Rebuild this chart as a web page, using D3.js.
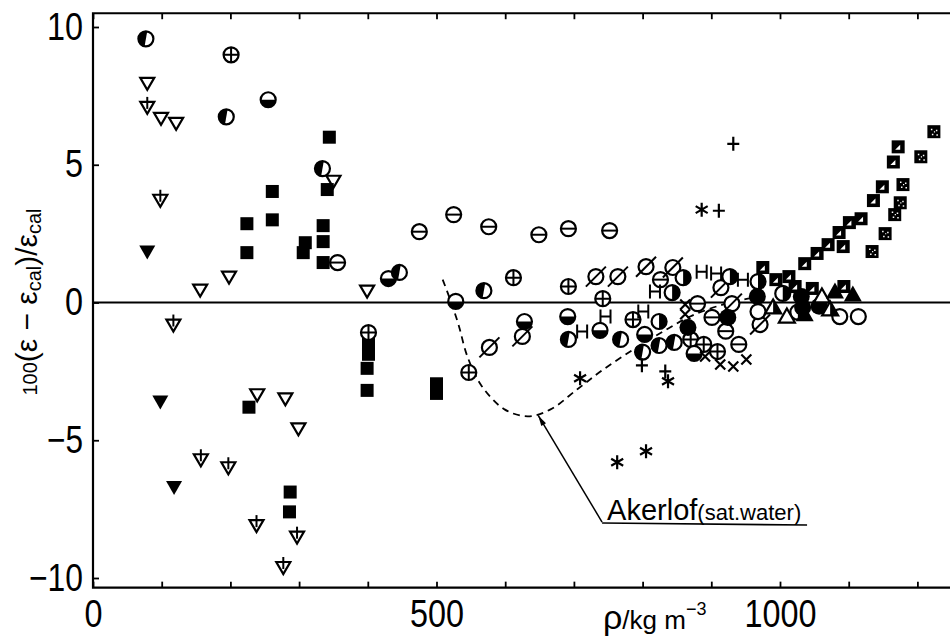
<!DOCTYPE html>
<html>
<head>
<meta charset="utf-8">
<script src="https://cdn.jsdelivr.net/npm/d3@7"></script>
<style>
  body { margin: 0; background: #fff; }
  svg { display: block; }
  text { font-family: "Liberation Sans", Arial, sans-serif; fill: #000; }
</style>
</head>
<body>
<svg id="chart" width="950" height="643"></svg>
<script>
// ---- data: [rho (kg m^-3), 100(eps - eps_cal)/eps_cal] ----
var halfDiag = [[77, 9.57], [194, 6.74], [334, 4.86], [446, 1.09], [569, 0.43], [692, -1.34],
  [768, -1.34], [800, -1.8], [824, -1.56], [846, -1.45]];
var halfBottom = [[255, 7.36], [430, 0.87], [528, 0.04], [628, -0.69], [691, -0.51], [738, -1.01],
  [803, -1.16], [875, -1.85]];
var crossCircle = [[201, 8.99], [401, -1.09], [547, -2.54], [612, 0.9], [692, 0.58], [742, 0.14],
  [786, -0.62], [870, -1.34], [889, -1.52], [909, -1.78]];
var minusCircle = [[356, 1.45], [475, 2.57], [525, 3.19], [576, 2.75], [649, 2.46], [692, 2.68],
  [752, 2.61], [826, 0.83], [880, -0.04], [901, -0.54], [921, -1.04], [940, -1.52]];
var slashCircle = [[577, -1.63], [625, -1.23], [732, 0.94], [764, 0.94], [805, 1.3], [844, 1.27],
  [914, 0.54], [930, -0.04], [971, -0.8]];
var filledCircle = [[866, -0.91], [924, -0.54], [967, 0.22], [1031, 0.22], [1033, -0.18], [1057, -0.14]];
var openCircle = [[968, -0.33], [1087, -0.51], [1114, -0.51]];
var halfRight = [[824, -0.69], [859, 0.9], [843, 0.36], [927, 0.94], [968, 0.76], [1004, 0.33], [1026, -0.35]];
var letterH = [[712, -1.05], [746, -0.51], [801, -0.33], [818, 0.4], [886, 1.12], [907, 1.05], [946, 0.83]];
var cross = [[862, -0.07], [862, -0.43], [891, -1.96], [913, -2.25], [932, -2.32], [951, -2.07]];
var plus = [[799, -2.28], [833, -2.5], [911, 3.33], [932, 5.76]];
var star = [[709, -2.75], [837, -2.86], [886, 3.37], [763, -5.8], [805, -5.4]];
var downOpen = [[79, 7.97], [99, 6.7], [121, 6.52], [350, 4.42], [198, 0.94], [156, 0.47], [399, 0.43],
  [239, -3.33], [280, -3.48], [299, -4.57]];
var downFilled = [[79, 1.85], [98, -3.59], [118, -6.7]];
var downStem = [[79, 7.1], [98, 3.73], [117, -0.8], [157, -5.69], [197, -5.98], [238, -8.08],
  [297, -8.5], [277, -9.6]];
var square = [[344, 6.0], [341, 4.1], [261, 4.03], [261, 3.0], [224, 2.86], [335, 2.79], [309, 2.17],
  [306, 1.81], [335, 2.21], [335, 1.45], [224, 1.81], [401, -1.52], [401, -1.88], [399, -2.39],
  [399, -3.19], [500, -2.95], [500, -3.3], [227, -3.8], [287, -6.88], [286, -7.6]];
var squareTri = [[975, 1.27], [994, 0.83], [1013, 0.94], [1022, 0.58], [1047, 0.51], [1093, 0.58],
  [1036, 1.41], [1054, 1.78], [1070, 2.1], [1092, 2.03], [1086, 2.54], [1101, 2.9], [1118, 3.04],
  [1136, 3.7], [1149, 4.2], [1165, 5.1], [1172, 5.65]];
var squareDots = [[1134, 1.85], [1153, 2.5], [1167, 3.19], [1175, 3.62], [1179, 4.28], [1205, 5.29], [1224, 6.2]];
var upOpen = [[1010, -0.51], [1061, 0.22]];
var upFilled = [[1036, -0.43], [1080, 0.4], [1106, 0.29]];
var upHalf = [[990, -0.18], [1073, -0.25]];

// Akerlof (saturated water) dashed curve
var akerlofRho = [509, 520, 532, 545, 565, 599, 633, 666, 705, 743, 787, 830, 870, 920, 965];
var akerlofVal = [0.83, 0.1, -0.8, -1.96, -3.0, -3.88, -4.13, -3.88, -3.15, -2.43, -1.7, -1.05, -0.5, -0.05, 0.2];
var arrowFrom = [741, -7.97], arrowTo = [648, -4.1];

var xTicks = d3.range(0, 1300, 100);
var xLabels = [0, 500, 1000];
var yTicks = [-10, -5, 0, 5, 10];

// ---- layout ----
var svg = d3.select('#chart');
var x = d3.scaleLinear().domain([0, 1000]).range([93, 780]);
var y = d3.scaleLinear().domain([-10, 10]).range([578, 27]);
var yTop = y(10.5), yBot = y(-10.35);

// narrow the tick digits like the original lettering
function squeeze(g) {
  g.selectAll('text').attr('font-size', 38)
    .each(function() {
      var t = d3.select(this), n = t.text().length;
      if (n) t.attr('textLength', 18 * n).attr('lengthAdjust', 'spacingAndGlyphs');
    });
}

// axes
svg.append('g')
  .attr('transform', 'translate(0,' + yBot + ')')
  .call(d3.axisBottom(x).tickValues(xTicks).tickSizeInner(-6).tickSizeOuter(0).tickPadding(12)
    .tickFormat(function(d) { return xLabels.indexOf(d) >= 0 ? d : ''; }))
  .call(function(g) { g.select('.domain').remove(); })
  .call(squeeze);

svg.append('g')
  .attr('transform', 'translate(0,' + yTop + ')')
  .call(d3.axisTop(x).tickValues(xTicks).tickSizeInner(-6).tickSizeOuter(0).tickFormat(''))
  .call(function(g) { g.select('.domain').remove(); });

svg.append('g')
  .attr('transform', 'translate(' + x(0) + ',0)')
  .call(d3.axisLeft(y).tickValues(yTicks).tickSizeInner(-6).tickSizeOuter(0).tickPadding(10))
  .call(function(g) { g.select('.domain').remove(); })
  .call(squeeze);

svg.selectAll('.tick line').attr('stroke', '#000').attr('stroke-width', 1.8);

// frame
var frame = svg.append('g').attr('stroke', '#000').attr('stroke-width', 2.2).attr('fill', 'none');
frame.append('path').attr('d', 'M' + x(1300) + ',' + yTop + 'H' + x(0) + 'V' + yBot + 'H' + x(1300));

// zero line
svg.append('line')
  .attr('x1', x(0)).attr('x2', x(1300)).attr('y1', y(0)).attr('y2', y(0))
  .attr('stroke', '#000').attr('stroke-width', 2);

// Akerlof curve
var line = d3.line().curve(d3.curveCatmullRom)
  .x(function(d, i) { return x(akerlofRho[i]); })
  .y(function(d) { return y(d); });
svg.append('path')
  .attr('d', line(akerlofVal))
  .attr('fill', 'none').attr('stroke', '#000').attr('stroke-width', 1.8)
  .attr('stroke-dasharray', '7,5');

// ---- markers ----
var R = 7.5, SW = 2.2;
function halfPath(r, a0) {
  var t0 = a0 * Math.PI / 180, t1 = t0 + Math.PI;
  return 'M' + r * Math.cos(t0) + ',' + r * Math.sin(t0) + 'A' + r + ',' + r + ' 0 0,1 ' +
    r * Math.cos(t1) + ',' + r * Math.sin(t1) + 'Z';
}
function ring(s) {
  s.append('circle').attr('r', R).attr('fill', '#fff').attr('stroke', '#000').attr('stroke-width', SW);
}
function stroke(s, d, w) {
  s.append('path').attr('d', d).attr('fill', 'none').attr('stroke', '#000').attr('stroke-width', w || SW);
}
var shapes = {
  halfDiag: function(s) { ring(s); s.append('path').attr('d', halfPath(R, 100)).attr('fill', '#000'); },
  halfBottom: function(s) { ring(s); s.append('path').attr('d', halfPath(R, 0)).attr('fill', '#000'); },
  halfRight: function(s) { ring(s); s.append('path').attr('d', halfPath(R, -90)).attr('fill', '#000'); },
  crossCircle: function(s) { ring(s); stroke(s, 'M' + -R + ',0H' + R + 'M0,' + -R + 'V' + R, 2); },
  minusCircle: function(s) { ring(s); stroke(s, 'M' + -R + ',0H' + R, 2); },
  slashCircle: function(s) { ring(s); stroke(s, 'M-10,10L10,-10', 2); },
  filledCircle: function(s) { s.append('circle').attr('r', R + 1).attr('fill', '#000'); },
  openCircle: ring,
  letterH: function(s) { stroke(s, 'M-5,-7V7M5,-7V7M-5,0H5', 2); },
  cross: function(s) { stroke(s, 'M-5,-5L5,5M5,-5L-5,5', 2.2); },
  plus: function(s) { stroke(s, 'M-6,0H6M0,-7V7', 2.2); },
  star: function(s) { stroke(s, 'M0,-7V7M-6,-3.5L6,3.5M6,-3.5L-6,3.5', 2.2); },
  downOpen: function(s) {
    s.append('path').attr('d', 'M-7,-5H7L0,7Z').attr('fill', '#fff').attr('stroke', '#000').attr('stroke-width', SW);
  },
  downFilled: function(s) { s.append('path').attr('d', 'M-8,-6H8L0,8Z').attr('fill', '#000'); },
  downStem: function(s) {
    s.append('path').attr('d', 'M-7,-5H7L0,7Z').attr('fill', '#fff').attr('stroke', '#000').attr('stroke-width', SW);
    stroke(s, 'M0,-10V2', 2);
  },
  square: function(s) { s.append('rect').attr('x', -6.5).attr('y', -6.5).attr('width', 13).attr('height', 13).attr('fill', '#000'); },
  squareTri: function(s) {
    s.append('rect').attr('x', -6.5).attr('y', -6.5).attr('width', 13).attr('height', 13).attr('fill', '#000');
    s.append('path').attr('d', 'M-3,3H2V-2Z').attr('fill', '#fff');
  },
  squareDots: function(s) {
    s.append('rect').attr('x', -6.5).attr('y', -6.5).attr('width', 13).attr('height', 13).attr('fill', '#000');
    s.append('path').attr('d', 'M-3,-3h1.5v1.5h-1.5ZM2,-2h1.5v1.5h-1.5ZM-2,2h1.5v1.5h-1.5ZM2.5,2.5h1.5v1.5h-1.5ZM0,-0.5h1.2v1.2h-1.2Z').attr('fill', '#fff');
  },
  upOpen: function(s) {
    s.append('path').attr('d', 'M-8,6H8L0,-8Z').attr('fill', '#fff').attr('stroke', '#000').attr('stroke-width', SW);
  },
  upFilled: function(s) { s.append('path').attr('d', 'M-9,7H9L0,-9Z').attr('fill', '#000'); },
  upHalf: function(s) {
    s.append('path').attr('d', 'M-8,6H8L0,-8Z').attr('fill', '#fff').attr('stroke', '#000').attr('stroke-width', SW);
    s.append('path').attr('d', 'M0,-8L8,6H0Z').attr('fill', '#000');
  }
};

var series = [
  [downOpen, 'downOpen'], [downFilled, 'downFilled'], [downStem, 'downStem'], [square, 'square'],
  [minusCircle, 'minusCircle'], [crossCircle, 'crossCircle'], [slashCircle, 'slashCircle'],
  [halfBottom, 'halfBottom'], [halfDiag, 'halfDiag'], [halfRight, 'halfRight'],
  [filledCircle, 'filledCircle'], [openCircle, 'openCircle'], [letterH, 'letterH'],
  [cross, 'cross'], [plus, 'plus'], [star, 'star'], [squareTri, 'squareTri'], [squareDots, 'squareDots'],
  [upOpen, 'upOpen'], [upFilled, 'upFilled'], [upHalf, 'upHalf']
];

var plot = svg.append('g');
series.forEach(function(sr) {
  plot.append('g').attr('class', sr[1])
    .selectAll('g').data(sr[0]).join('g')
    .attr('transform', function(d) { return 'translate(' + x(d[0]) + ',' + y(d[1]) + ')'; })
    .each(function() { shapes[sr[1]](d3.select(this)); });
});

// ---- annotation ----
var ax0 = x(arrowFrom[0]), ay0 = y(arrowFrom[1]), ax1 = x(arrowTo[0]), ay1 = y(arrowTo[1]);
svg.append('line').attr('x1', ax0).attr('y1', ay0).attr('x2', ax1).attr('y2', ay1)
  .attr('stroke', '#000').attr('stroke-width', 1.5);
var ang = Math.atan2(ay1 - ay0, ax1 - ax0);
svg.append('path')
  .attr('d', d3.line()([[ax1, ay1],
    [ax1 - 11 * Math.cos(ang - 0.25), ay1 - 11 * Math.sin(ang - 0.25)],
    [ax1 - 11 * Math.cos(ang + 0.25), ay1 - 11 * Math.sin(ang + 0.25)]]) + 'Z')
  .attr('fill', '#000');
svg.append('line').attr('x1', ax0).attr('y1', ay0 + 1).attr('x2', ax0 + 205).attr('y2', ay0 + 3)
  .attr('stroke', '#000').attr('stroke-width', 1.6);
var ak = svg.append('text').attr('x', ax0 + 5).attr('y', ay0 - 2);
ak.append('tspan').attr('font-size', 29).text('Akerlof');
ak.append('tspan').attr('font-size', 22).text('(sat.water)');

// axis titles
var xt = svg.append('text').attr('x', 603).attr('y', 629);
xt.append('tspan').attr('font-size', 34).text('ρ');
xt.append('tspan').attr('font-size', 26).text('/kg m');
xt.append('tspan').attr('font-size', 18).attr('dy', -14).text('−3');

var yt = svg.append('text').attr('transform', 'translate(37,302) rotate(-90)')
  .attr('text-anchor', 'middle');
yt.append('tspan').attr('font-size', 20).text('100');
yt.append('tspan').attr('font-size', 30).text('(ε − ε');
yt.append('tspan').attr('font-size', 20).attr('dy', 4).text('cal');
yt.append('tspan').attr('font-size', 30).attr('dy', -4).text(')/ε');
yt.append('tspan').attr('font-size', 20).attr('dy', 4).text('cal');
</script>
</body>
</html>
